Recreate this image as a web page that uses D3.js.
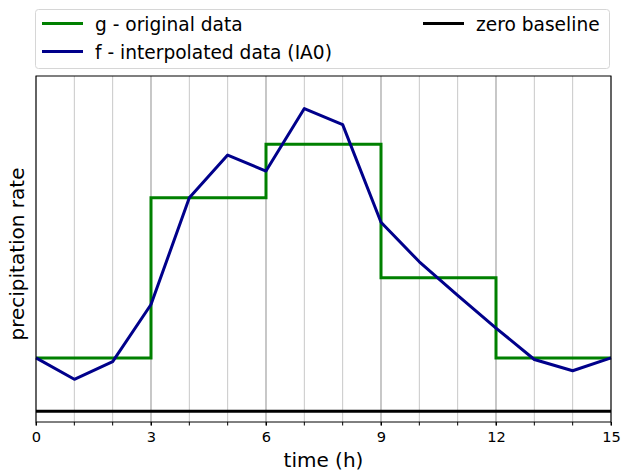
<!DOCTYPE html>
<html>
<head>
<meta charset="utf-8">
<script src="https://cdn.jsdelivr.net/npm/d3@7"></script>
<style>
  body { margin: 0; background: #fff; }
  svg { font-family: "DejaVu Sans", sans-serif; }
</style>
</head>
<body>
<div id="chart"></div>
<script>
// hourly time axis
const hours = d3.range(0, 16);
const xTicks = [0, 3, 6, 9, 12, 15];

// g: original 3-hourly block values
const blockStarts = [0, 3, 6, 9, 12];
const blockValues = [1.0, 4.0, 5.0, 2.5, 1.0];

// f: interpolated hourly values
const interpValues = [1.0, 0.6, 0.93, 2.0, 4.0, 4.8, 4.5, 5.67, 5.37, 3.54, 2.8, 2.17, 1.56, 0.97, 0.76, 1.0];

const width = 622, height = 473;
const margin = {top: 76, right: 11, bottom: 51, left: 36};
const w = width - margin.left - margin.right;
const h = height - margin.top - margin.bottom;

const svg = d3.select("#chart")
    .append("svg")
    .attr("width", width)
    .attr("height", height);

const g = svg.append("g")
    .attr("transform", `translate(${margin.left}, ${margin.top})`);

const x = d3.scaleLinear().domain([0, 15]).range([0, w]);
const y = d3.scaleLinear().domain([-0.2, 6.28]).range([h, 0]);

// vertical grid, stronger every 3 hours
g.append("g")
    .selectAll("line")
    .data(hours)
    .enter().append("line")
    .attr("x1", d => x(d)).attr("x2", d => x(d))
    .attr("y1", 0).attr("y2", h)
    .attr("stroke", d => d % 3 === 0 ? "#b0b0b0" : "#c8c8c8")
    .attr("stroke-width", d => d % 3 === 0 ? 1.4 : 1);

// step line for the block data
const stepPts = [];
blockStarts.forEach((s, i) => {
    stepPts.push([s, blockValues[i]]);
    stepPts.push([s + 3, blockValues[i]]);
});

const line = d3.line().x(d => x(d[0])).y(d => y(d[1]));

g.append("path")
    .datum(stepPts)
    .attr("fill", "none")
    .attr("stroke", "#008000")
    .attr("stroke-width", 3)
    .attr("d", line);

g.append("path")
    .datum(hours.map((t, i) => [t, interpValues[i]]))
    .attr("fill", "none")
    .attr("stroke", "#00008b")
    .attr("stroke-width", 3)
    .attr("stroke-linejoin", "round")
    .attr("d", line);

// zero baseline
g.append("line")
    .attr("x1", 0).attr("x2", w)
    .attr("y1", y(0)).attr("y2", y(0))
    .attr("stroke", "#000")
    .attr("stroke-width", 3);

// frame
g.append("rect")
    .attr("width", w).attr("height", h)
    .attr("fill", "none")
    .attr("stroke", "#000")
    .attr("stroke-width", 1);

// x axis with hourly minor ticks
g.append("g")
    .attr("transform", `translate(0, ${h})`)
    .selectAll("line")
    .data(hours)
    .enter().append("line")
    .attr("x1", d => x(d)).attr("x2", d => x(d))
    .attr("y1", 0).attr("y2", 3.5)
    .attr("stroke", "#000");

const xAxis = g.append("g")
    .attr("transform", `translate(0, ${h})`)
    .call(d3.axisBottom(x).tickValues(xTicks).tickFormat(d3.format("d")).tickSize(3.5).tickPadding(6));
xAxis.select(".domain").remove();
xAxis.selectAll("text").style("font-size", "14.6px").attr("fill", "#000").style("font-family", "DejaVu Sans");

// axis titles
svg.append("text")
    .attr("x", margin.left + w / 2)
    .attr("y", 466.5)
    .attr("text-anchor", "middle")
    .style("font-size", "20px")
    .text("time (h)");

svg.append("text")
    .attr("transform", `translate(24, 254) rotate(-90)`)
    .attr("text-anchor", "middle")
    .style("font-size", "20px")
    .text("precipitation rate");

// legend
const legend = svg.append("g");
legend.append("rect")
    .attr("x", 35.5).attr("y", 9.5)
    .attr("width", 574).attr("height", 59)
    .attr("rx", 3)
    .attr("fill", "#fff")
    .attr("stroke", "#d6d6d6");

const legendItems = [
    {label: "g - original data", color: "#008000", lx: 42, ly: 23.5},
    {label: "f - interpolated data (IA0)", color: "#00008b", lx: 42, ly: 51.5},
    {label: "zero baseline", color: "#000", lx: 423, ly: 23.5}
];

legendItems.forEach(d => {
    legend.append("line")
        .attr("x1", d.lx).attr("x2", d.lx + 41)
        .attr("y1", d.ly).attr("y2", d.ly)
        .attr("stroke", d.color)
        .attr("stroke-width", 3);
    legend.append("text")
        .attr("x", d.lx + 53)
        .attr("y", d.ly + 7.5)
        .style("font-size", "18.6px")
        .text(d.label);
});
</script>
</body>
</html>
